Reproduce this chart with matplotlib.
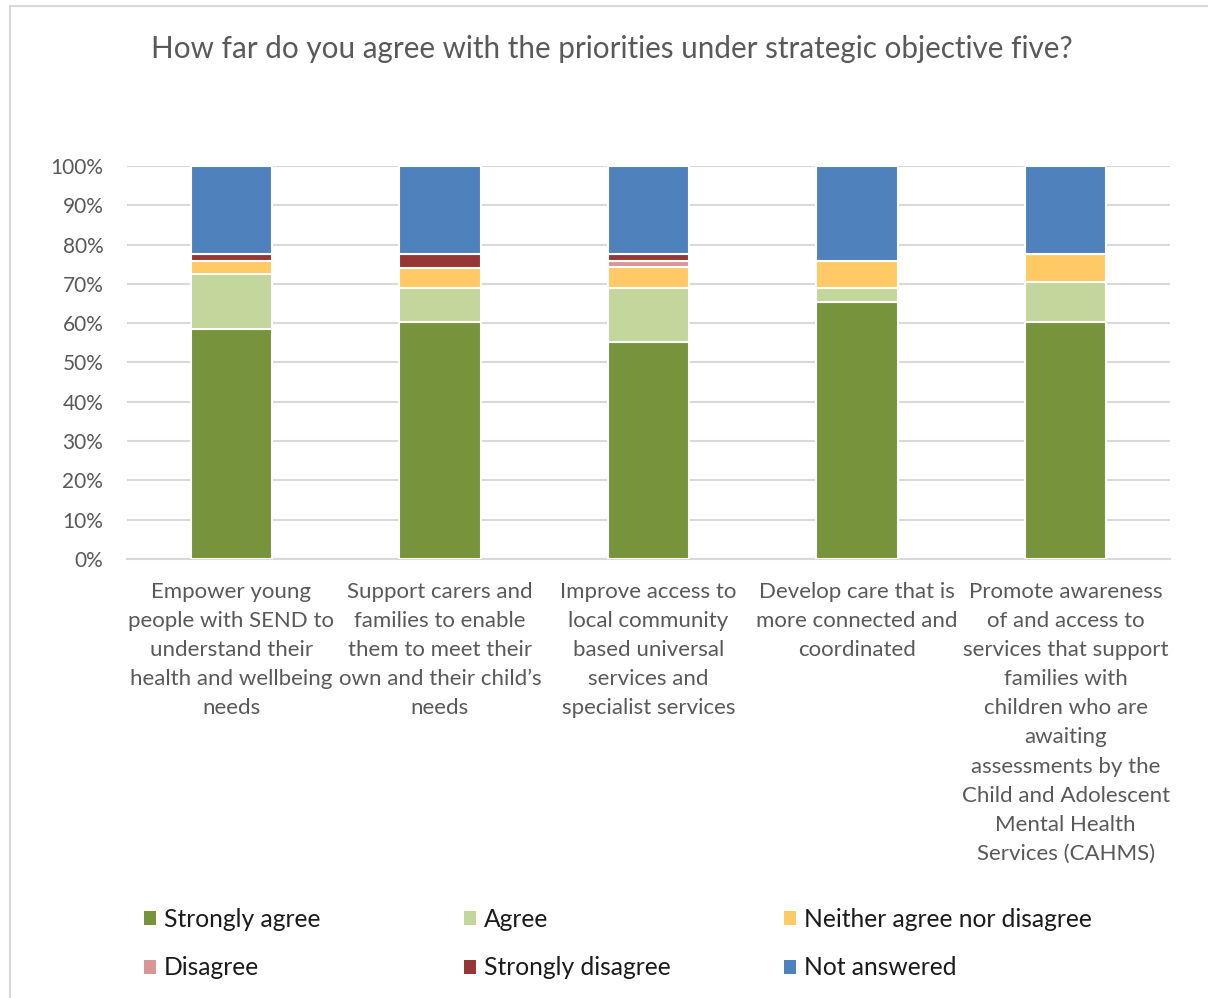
import matplotlib.pyplot as plt
import numpy as np
from matplotlib.lines import Line2D
from matplotlib.patches import Patch

# survey responses, percent of respondents per priority
categories = [
    "Empower young\npeople with SEND to\nunderstand their\nhealth and wellbeing\nneeds",
    "Support carers and\nfamilies to enable\nthem to meet their\nown and their child\u2019s\nneeds",
    "Improve access to\nlocal community\nbased universal\nservices and\nspecialist services",
    "Develop care that is\nmore connected and\ncoordinated",
    "Promote awareness\nof and access to\nservices that support\nfamilies with\nchildren who are\nawaiting\nassessments by the\nChild and Adolescent\nMental Health\nServices (CAHMS)",
]
strongly_agree = [58.6, 60.3, 55.2, 65.5, 60.3]
agree = [13.8, 8.6, 13.8, 3.4, 10.3]
neither = [3.4, 5.2, 5.2, 6.9, 6.9]
disagree = [0.0, 0.0, 1.7, 0.0, 0.0]
strongly_disagree = [1.7, 3.4, 1.7, 0.0, 0.0]
not_answered = [22.4, 22.4, 22.4, 24.1, 22.4]

series = [
    ("Strongly agree", strongly_agree, "#77933C"),
    ("Agree", agree, "#C3D69B"),
    ("Neither agree nor disagree", neither, "#FFC965"),
    ("Disagree", disagree, "#D99694"),
    ("Strongly disagree", strongly_disagree, "#953735"),
    ("Not answered", not_answered, "#4F81BD"),
]

plt.rcParams['font.family'] = ['Lato', 'DejaVu Sans']

fig = plt.figure(figsize=(12.08, 9.98), dpi=100)
# chart frame: only top and left edges show in the crop
fig.lines.append(Line2D([0.0079, 1.0], [0.9935, 0.9935], transform=fig.transFigure,
                        color="#D9D9D9", linewidth=1.5))
fig.lines.append(Line2D([0.0079, 0.0079], [0.0, 0.9935], transform=fig.transFigure,
                        color="#D9D9D9", linewidth=1.5))

ax = fig.add_axes([0.1051, 0.4399, 0.8634, 0.3938])
x = np.arange(len(categories))
bottom = np.zeros(len(categories))
for name, vals, col in series:
    ax.bar(x, vals, 0.39, bottom=bottom, color=col, edgecolor="white", linewidth=1.5,
           label=name, zorder=3)
    bottom += np.array(vals)

ax.set_xlim(-0.5, len(categories) - 0.5)
ax.set_ylim(0, 100)
ax.set_yticks(np.arange(0, 101, 10))
ax.set_yticklabels([f"{v}%" for v in range(0, 101, 10)])
ax.yaxis.grid(True, color="#D9D9D9", linewidth=1.5, zorder=0)
ax.set_axisbelow(True)
for s in ["top", "right", "left"]:
    ax.spines[s].set_visible(False)
ax.spines["bottom"].set_color("#D9D9D9")
ax.spines["bottom"].set_linewidth(1.5)
ax.tick_params(axis="both", length=0, colors="#595959")
ax.tick_params(axis="y", labelsize=15, pad=17)
ax.set_xticks(x)
ax.set_xticklabels(categories, fontsize=16, linespacing=1.57, va="top", ha="center")
ax.tick_params(axis="x", pad=16.5)

fig.text(0.5066, 0.951, "How far do you agree with the priorities under strategic objective five?",
         ha="center", va="center", fontsize=21.3, color="#595959")

# legend: three columns, two rows
handles = [Patch(facecolor=c, label=n) for n, _, c in series]
col_x = [0.1193, 0.3842, 0.6491]
for i, cx in enumerate(col_x):
    leg = fig.legend(handles=[handles[i], handles[i + 3]], loc="upper left",
                     bbox_to_anchor=(cx, 0.0905), frameon=False, fontsize=17.7,
                     handlelength=0.5, handleheight=0.5, handletextpad=0.3,
                     labelspacing=1.05, borderaxespad=0, borderpad=0)
    for t in leg.get_texts():
        t.set_color("#1a1a1a")

fig.savefig("out.png", dpi=100)
